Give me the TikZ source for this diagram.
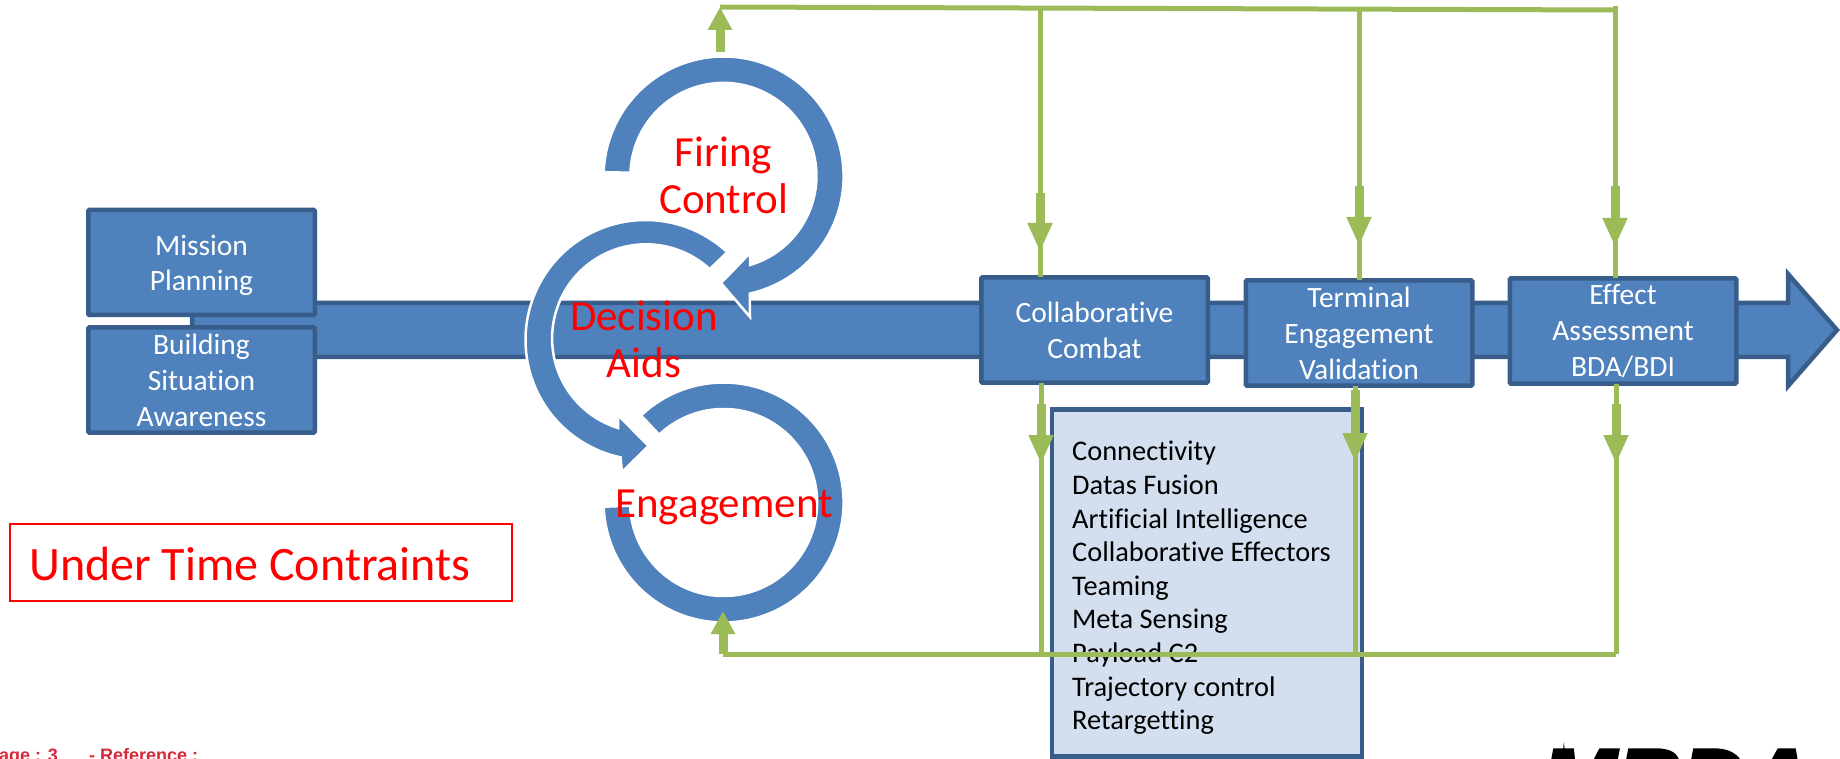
\documentclass[tikz,border=0pt]{standalone}
\usepackage{fontspec}
\setmainfont{Carlito}[Ligatures=NoCommon]
\newfontfamily\footfont{Liberation Sans}
\newfontfamily\logofont[FakeBold=4]{Liberation Sans}
\usetikzlibrary{arrows.meta}
\definecolor{mblue}{HTML}{4F81BD}
\definecolor{mborder}{HTML}{385D8A}
\definecolor{mgreen}{HTML}{9BBB59}
\definecolor{mpanel}{HTML}{D3DFEE}
\definecolor{mfoot}{HTML}{D62839}
\tikzset{
  stagebox/.style={draw=mborder,fill=mblue,line width=4.5pt,rounded corners=1pt,outer sep=0pt,inner sep=0pt,
    minimum width=226.5pt,minimum height=105pt,text=white,align=center,font=\fontsize{29.5}{36}\selectfont},
  loopshape/.style={fill=mblue,draw=white,line width=2.5pt,line join=miter},
  redtext/.style={text=red,align=center,inner sep=0pt,font=\fontsize{43}{47}\selectfont},
  gline/.style={draw=mgreen,line width=5pt},
  garrow/.style={draw=mgreen,line width=9pt,-{Triangle[width=23pt,length=29pt,color=mgreen]}},
  garrowshort/.style={draw=mgreen,line width=9pt,-{Triangle[width=23pt,length=23pt,color=mgreen]}},
}
\begin{document}
\begin{tikzpicture}[x=1pt,y=-1pt]
\clip (0,0) rectangle (1840,759);
% main bar arrow
\draw[draw=mborder,fill=mblue,line width=4.5pt,line join=miter]
  (192,303) -- (1788,303) -- (1788,274) -- (1837,330) -- (1788,386) -- (1788,357) -- (192,357) -- cycle;
% stage boxes
\node[stagebox,font=\fontsize{29.5}{35}\selectfont] (mission) at (201.5,262.5) {\rule{0pt}{26pt}Mission\\Planning};
\node[stagebox] (building) at (201.5,380) {Building\\Situation\\Awareness};
\node[stagebox] (collab) at (1094.5,330) {Collaborative\\Combat};
\node[stagebox] (term) at (1359,333) {Terminal\\Engagement\\Validation};
\node[stagebox] (effect) at (1623,331) {Effect\\Assessment\\BDA/BDI};
% panel
\node[draw=mborder,fill=mpanel,line width=4.5pt,outer sep=0pt,minimum width=310pt,minimum height=347pt] (panel) at (1207,583) {};
\node[anchor=west,inner sep=0pt,align=left,text=black,font=\fontsize{28.4}{33.6}\selectfont] (listing) at (1072,588)
  {Connectivity\\Datas Fusion\\Artificial Intelligence\\Collaborative Effectors\\Teaming\\Meta Sensing\\Payload C2\\Trajectory control\\Retargetting};
% loops
\path[loopshape] (723.6,176.5) ++(178:120pt) arc[start angle=178,end angle=-77.4,radius=120pt]
  -- (750,317) -- (721,283) -- (750,253) -- (750,265)
  arc[start angle=-73.4,end angle=178,radius=93pt] -- cycle;
\path[loopshape] (645.5,340) ++(47:120pt) arc[start angle=47,end angle=258,radius=120pt]
  -- (622,472) -- (648.5,446) -- (618,415) -- (618,428)
  arc[start angle=252.6,end angle=47.4,radius=94pt] -- cycle;
\path[loopshape] (723.6,502.5) ++(133.5:120pt) arc[start angle=133.5,end angle=-178,radius=120pt]
  -- (630.16,505.76) arc[start angle=-178,end angle=133.5,radius=93.5pt] -- cycle;
% red labels
\node[redtext] (firing) at (723.6,175.5) {Firing\\Control};
\node[redtext] (decision) at (644,339.5) {Decision\\Aids};
\node[redtext] (engage) at (724,507) {Engagement};
\node[draw=red,line width=2pt,outer sep=0pt,minimum width=502pt,minimum height=77pt] (limit) at (261,562.5) {};
\node[anchor=west,inner sep=0pt,text=red,font=\fontsize{48}{54}\selectfont] (limittext) at (29,564) {Under Time Contraints};
% green network
\coordinate (topL) at (720,7);
\coordinate (topR) at (1615,10);
\coordinate (topA) at (1040,8.5);
\coordinate (topB) at (1359,9.5);
\coordinate (topC) at (1615,6);
\coordinate (botL) at (723,654);
\coordinate (botR) at (1616,654);
\coordinate (botA) at (1041,654);
\coordinate (botB) at (1355,654);
\coordinate (upS) at (720,52);
\draw[gline] (topL) -- (topR);
\draw[gline] (botL) -- (botR);
\draw[gline] (topA) -- (topA |- collab.north);
\draw[gline] (topB) -- (topB |- term.north);
\draw[gline] (topC) -- (topC |- effect.north);
\draw[gline] (botA |- collab.south) -- (botA);
\draw[gline] (botB |- term.south) -- (botB);
\draw[gline] (botR |- effect.south) -- (botR);
\draw[garrowshort] (upS) -- (topL);
\draw[garrowshort] (botL) -- (723,611);
\draw[garrow] (1040,193) -- (1040,252);
\draw[garrow] (1359,186) -- (1359,246);
\draw[garrow] (1615,186) -- (1615,247);
\draw[garrow] (1041,404) -- (1041,464);
\draw[garrow] (1355,390) -- (1355,462);
\draw[garrow] (1616,404) -- (1616,464);
% footer
\node[anchor=base east,inner sep=0pt,text=mfoot,font=\footfont\bfseries\fontsize{18}{20}\selectfont] (pagenum) at (58,761) {Page : 3};
\node[anchor=base west,inner sep=0pt,text=mfoot,font=\footfont\bfseries\fontsize{18}{20}\selectfont] (refer) at (89,761) {- Reference :};
\node[anchor=base west,inner sep=0pt,text=black,font=\logofont\bfseries\itshape\fontsize{90}{94}\selectfont] (logo) at (1541,812) {MBDA};
\end{tikzpicture}
\end{document}
